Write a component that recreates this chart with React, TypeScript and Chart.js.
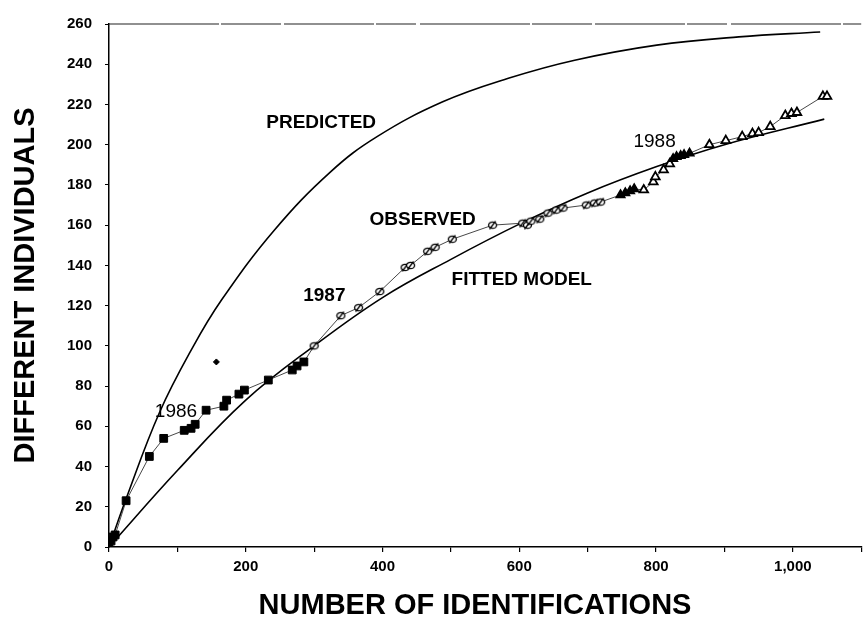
import React, { useEffect, useRef } from 'react';
import { Chart, registerables } from 'chart.js';
Chart.register(...registerables);

// ---- Data ----
const xTickStep = 100;
const yTickStep = 20;
const xMax = 1100;
const yMax = 260;

const predictedX = [0, 25, 74, 122, 165, 242, 324, 392, 488, 584, 681, 801, 921, 1040];
const predictedY = [0, 24, 67, 99, 123, 157.6, 186.5, 204, 221.3, 233, 242, 249.5, 253.6, 256];

const fittedX = [0, 100, 200, 300, 400, 500, 600, 700, 800, 900, 1046];
const fittedY = [0, 38, 73, 100, 124, 143, 160.5, 176, 189, 200, 212.7];

const obs1986X = [0, 3, 6, 9, 25, 59, 80, 110, 120, 126, 142, 168, 172, 190, 198, 233, 268, 275, 285];
const obs1986Y = [1, 3, 5, 6, 23, 45, 54, 58, 59, 61, 68, 70, 73, 76, 78, 83, 88, 90, 92];

const obs1987X = [300, 339, 365, 396, 433, 441, 466, 477, 502, 561, 605, 612, 617, 630, 642, 654, 664, 698, 710, 719];
const obs1987Y = [100, 115, 119, 127, 139, 140, 147, 149, 153, 160, 161, 160, 162, 163, 166, 167.5, 168.5, 170, 171, 171.5];

const obs1988FilledX = [748, 755, 762, 768, 825, 830, 836, 841, 849];
const obs1988FilledY = [175, 176, 177, 178, 193, 194, 194.5, 195, 195.7];

const obs1988OpenX = [782, 796, 799, 811, 820, 878, 902, 926, 941, 950, 967, 989, 998, 1006, 1044, 1050];
const obs1988OpenY = [177.5, 181.5, 184, 187.5, 190.5, 200, 202, 204, 205.5, 206, 209, 214.5, 215.5, 216, 224, 224];

const strayX = [157];
const strayY = [92];

const labelTexts = ['PREDICTED', 'OBSERVED', 'FITTED MODEL', '1986', '1987', '1988'];
const labelX = [230, 381, 501, 67, 284, 767];
const labelY = [210.7, 162.5, 132.7, 67.2, 124.8, 201.4];
const labelBold = [true, true, true, false, true, false];

const xTitle = 'NUMBER OF IDENTIFICATIONS';
const yTitle = 'DIFFERENT INDIVIDUALS';

const FONT = '"Liberation Sans", Arial, Helvetica, sans-serif';

const pts = (xs: number[], ys: number[]) => xs.map((x, i) => ({ x, y: ys[i] }));

function slashCircle(): HTMLCanvasElement {
  const c = document.createElement('canvas');
  c.width = 11;
  c.height = 11;
  const g = c.getContext('2d')!;
  g.fillStyle = '#fff';
  g.strokeStyle = '#000';
  g.lineWidth = 1.3;
  g.beginPath();
  g.ellipse(5.5, 5.5, 4, 3.2, 0, 0, Math.PI * 2);
  g.fill();
  g.stroke();
  g.beginPath();
  g.moveTo(2.5, 9.5);
  g.lineTo(8.5, 1.5);
  g.stroke();
  return c;
}

const textPlugin = {
  id: 'textPlugin',
  afterDatasetsDraw(chart: any) {
    const { ctx, chartArea, scales } = chart;
    const xs = scales.x;
    const ys = scales.y;
    ctx.save();
    ctx.strokeStyle = '#222';
    ctx.lineWidth = 1.1;
    ctx.setLineDash([110, 2, 60, 3, 90, 2, 40, 4]);
    ctx.beginPath();
    ctx.moveTo(chartArea.left, chartArea.top);
    ctx.lineTo(chartArea.right, chartArea.top);
    ctx.stroke();
    ctx.setLineDash([]);
    ctx.fillStyle = '#000';
    ctx.textAlign = 'left';
    ctx.textBaseline = 'middle';
    labelTexts.forEach((t, i) => {
      ctx.font = `${labelBold[i] ? 'bold ' : ''}19px ${FONT}`;
      ctx.fillText(t, xs.getPixelForValue(labelX[i]), ys.getPixelForValue(labelY[i]));
    });
    // x axis title
    ctx.font = `bold 29px ${FONT}`;
    ctx.textAlign = 'center';
    ctx.fillText(xTitle, 475, 606);
    ctx.restore();
  },
};

export default function App() {
  const ref = useRef<HTMLCanvasElement | null>(null);
  useEffect(() => {
    if (!ref.current) return;
    const circ = slashCircle();
    const allObs = [
      ...pts(obs1986X, obs1986Y),
      ...pts(obs1987X, obs1987Y),
      ...pts(obs1988FilledX, obs1988FilledY),
      ...pts(obs1988OpenX, obs1988OpenY),
    ].sort((a, b) => a.x - b.x);
    const chart = new Chart(ref.current, {
      type: 'scatter',
      data: {
        datasets: [
          {
            label: '1986',
            data: pts(obs1986X, obs1986Y),
            pointStyle: 'rect',
            pointRadius: 5.5,
            backgroundColor: '#000',
            borderColor: '#000',
            borderWidth: 1,
          },
          {
            label: '1987',
            data: pts(obs1987X, obs1987Y),
            pointStyle: circ as any,
            pointRadius: 5,
          },
          {
            label: '1988 filled',
            data: pts(obs1988FilledX, obs1988FilledY),
            pointStyle: 'triangle',
            pointRadius: 5,
            backgroundColor: '#000',
            borderColor: '#000',
            borderWidth: 1.5,
          },
          {
            label: '1988 open',
            data: pts(obs1988OpenX, obs1988OpenY),
            pointStyle: 'triangle',
            pointRadius: 5,
            backgroundColor: '#fff',
            borderColor: '#000',
            borderWidth: 1.8,
          },
          {
            label: 'stray',
            data: pts(strayX, strayY),
            pointStyle: 'rectRot',
            pointRadius: 3,
            backgroundColor: '#000',
            borderColor: '#000',
          },
          {
            label: 'observed line',
            data: allObs,
            showLine: true,
            pointRadius: 0,
            borderColor: '#333',
            borderWidth: 0.9,
          },
          {
            label: 'predicted',
            data: pts(predictedX, predictedY),
            showLine: true,
            pointRadius: 0,
            borderColor: '#000',
            borderWidth: 1.6,
            tension: 0.4,
          },
          {
            label: 'fitted',
            data: pts(fittedX, fittedY),
            showLine: true,
            pointRadius: 0,
            borderColor: '#000',
            borderWidth: 1.6,
            tension: 0.4,
          },
        ] as any,
      },
      options: {
        animation: false,
        responsive: false,
        layout: { padding: { top: 24, left: 0, right: 0, bottom: 0 } },
        plugins: { legend: { display: false }, tooltip: { enabled: false } },
        scales: {
          x: {
            type: 'linear',
            min: 0,
            max: xMax,
            afterFit: (s: any) => {
              s.height = 71;
            },
            grid: { drawOnChartArea: false, drawTicks: true, tickLength: 5, color: '#000', lineWidth: 1.2 },
            border: { display: true, color: '#000', width: 1.5 },
            ticks: {
              stepSize: xTickStep,
              autoSkip: false,
              maxRotation: 0,
              padding: 6,
              color: '#000',
              font: { family: FONT, size: 15, weight: 'bold' },
              callback: (v: any) => (v % 200 === 0 && v <= 1000 ? Number(v).toLocaleString('en-US') : ''),
            },
            title: { display: false },
          },
          y: {
            type: 'linear',
            min: 0,
            max: yMax,
            afterFit: (s: any) => {
              s.width = 109;
            },
            grid: { drawOnChartArea: false, drawTicks: true, tickLength: 4, color: '#000', lineWidth: 1 },
            border: { display: true, color: '#000', width: 1.5 },
            ticks: {
              stepSize: yTickStep,
              padding: 13,
              color: '#000',
              font: { family: FONT, size: 15, weight: 'bold' },
            },
            title: {
              display: true,
              text: yTitle,
              color: '#000',
              font: { family: FONT, size: 29, weight: 'bold', lineHeight: 1.2 },
              padding: { top: 9, bottom: 0 },
            },
          },
        },
      },
      plugins: [textPlugin],
    });
    return () => chart.destroy();
  }, []);
  return (
    <div style={{ position: 'absolute', left: 0, top: 0, width: 868, height: 618, background: '#fff' }}>
      <canvas ref={ref} width={868} height={618} />
    </div>
  );
}
